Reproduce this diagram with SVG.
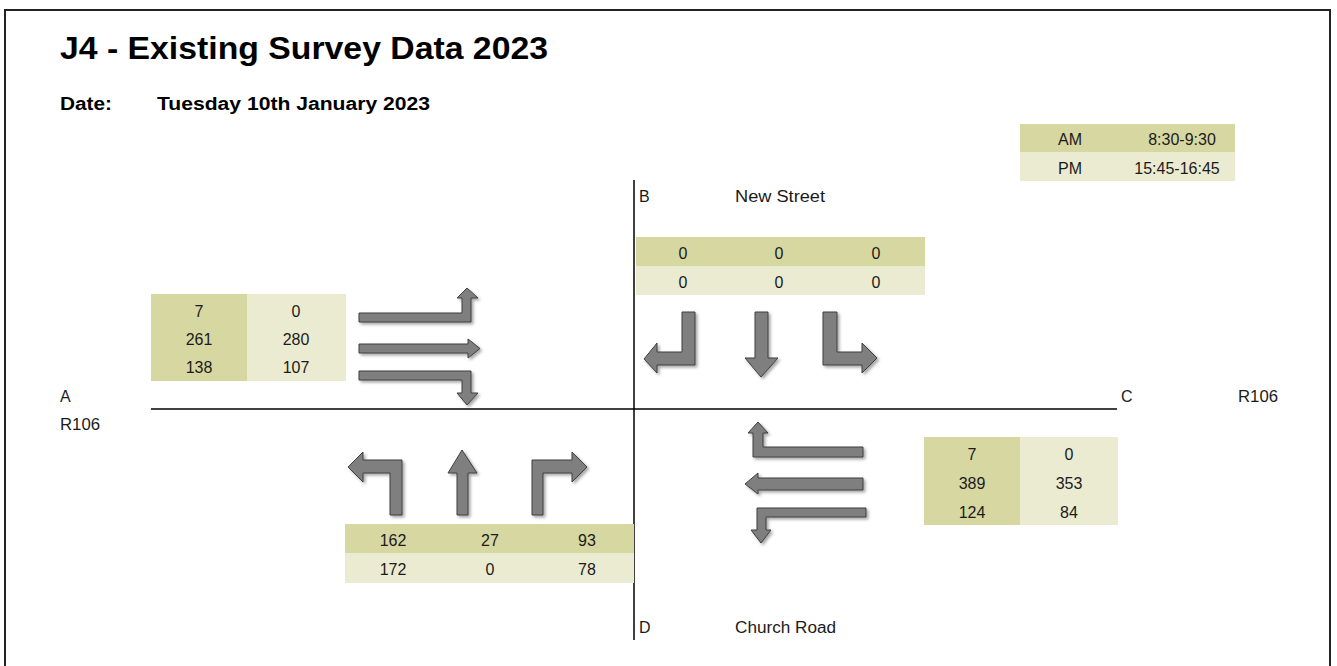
<svg xmlns="http://www.w3.org/2000/svg" width="1337" height="666" viewBox="0 0 1337 666">
<defs>
<filter id="sh" x="-30%" y="-30%" width="160%" height="160%">
<feDropShadow dx="2" dy="2" stdDeviation="1.5" flood-color="#000" flood-opacity="0.35"/>
</filter>
<style>
text{font-family:"Liberation Sans",Arial,sans-serif;fill:#1b1b1b}
.title{font-size:31px;font-weight:bold;fill:#000}
.date{font-size:18px;font-weight:bold;fill:#000}
.lbl{font-size:16px}
.num{font-size:16px;text-anchor:middle}
.dk{fill:#d7d7a2}
.lt{fill:#ebebd2}
.arr{fill:#7f7f7f;stroke:#3f3f3f;stroke-width:1;filter:url(#sh)}
.road{stroke:#000;stroke-width:1.5;fill:none}
</style>
</defs>
<rect x="5" y="10" width="1325" height="700" fill="#fff" stroke="#222" stroke-width="2"/>
<g id="header">
<text class="title" x="60" y="59" textLength="488" lengthAdjust="spacingAndGlyphs">J4 - Existing Survey Data 2023</text>
<text class="date" x="60" y="110" textLength="52" lengthAdjust="spacingAndGlyphs">Date:</text>
<text class="date" x="157" y="110" textLength="273" lengthAdjust="spacingAndGlyphs">Tuesday 10th January 2023</text>
</g>
<g id="legend">
<rect class="dk" x="1020" y="124" width="215" height="28"/>
<rect class="lt" x="1020" y="152" width="215" height="29"/>
<text class="num" x="1070" y="145">AM</text>
<text class="num" x="1182" y="145">8:30-9:30</text>
<text class="num" x="1070" y="174">PM</text>
<text class="num" x="1177" y="174">15:45-16:45</text>
</g>
<g id="connectors">
<line class="road" x1="634" y1="180" x2="634" y2="640"/>
<line class="road" x1="151" y1="409" x2="1117" y2="409"/>
</g>
<g id="labels">
<text class="lbl" x="639" y="202">B</text>
<text class="lbl" x="735" y="202" textLength="90" lengthAdjust="spacingAndGlyphs">New Street</text>
<text class="lbl" x="1121" y="402">C</text>
<text class="lbl" x="1238" y="402" textLength="40" lengthAdjust="spacingAndGlyphs">R106</text>
<text class="lbl" x="60" y="402">A</text>
<text class="lbl" x="60" y="430" textLength="40" lengthAdjust="spacingAndGlyphs">R106</text>
<text class="lbl" x="639" y="633">D</text>
<text class="lbl" x="735" y="633" textLength="101" lengthAdjust="spacingAndGlyphs">Church Road</text>
</g>
<g id="node-B">
<rect class="dk" x="636" y="237" width="289" height="29"/>
<rect class="lt" x="636" y="266" width="289" height="29"/>
<text class="num" x="683" y="259">0</text>
<text class="num" x="779" y="259">0</text>
<text class="num" x="876" y="259">0</text>
<text class="num" x="683" y="288">0</text>
<text class="num" x="779" y="288">0</text>
<text class="num" x="876" y="288">0</text>
<path class="arr" d="M682,312 H695 V365 H657 V373 L644,359 L657,343 V352 H682 Z"/>
<path class="arr" d="M755,312 H768 V358 H778 L761,377 L745,358 H755 Z"/>
<path class="arr" d="M823,312 H837 V352 H862 V343 L877,358 L862,373 V365 H823 Z"/>
</g>
<g id="node-A">
<rect class="dk" x="151" y="294" width="96" height="87"/>
<rect class="lt" x="247" y="294" width="99" height="87"/>
<text class="num" x="199" y="317">7</text>
<text class="num" x="296" y="317">0</text>
<text class="num" x="199" y="345">261</text>
<text class="num" x="296" y="345">280</text>
<text class="num" x="199" y="373">138</text>
<text class="num" x="296" y="373">107</text>
<path class="arr" d="M359,313 H462 V298 H457 L467,288 L478,298 H471 V322 H359 Z"/>
<path class="arr" d="M359,344 H468 V339 L480,348.5 L468,358 V353 H359 Z"/>
<path class="arr" d="M359,371 H471 V393 H478 L467,405 L457,393 H462 V380 H359 Z"/>
</g>
<g id="node-D">
<rect class="dk" x="345" y="524" width="289" height="29"/>
<rect class="lt" x="345" y="553" width="289" height="30"/>
<text class="num" x="393" y="546">162</text>
<text class="num" x="490" y="546">27</text>
<text class="num" x="587" y="546">93</text>
<text class="num" x="393" y="575">172</text>
<text class="num" x="490" y="575">0</text>
<text class="num" x="587" y="575">78</text>
<path class="arr" d="M390,515 V473 H363 V482 L348,467 L363,452 V460 H402 V515 Z"/>
<path class="arr" d="M457,515 V473 H448 L462,450 L477,473 H468 V515 Z"/>
<path class="arr" d="M532,515 V460 H572 V452 L587,467 L572,482 V473 H543 V515 Z"/>
</g>
<g id="node-C">
<rect class="dk" x="924" y="437" width="96" height="88"/>
<rect class="lt" x="1020" y="437" width="98" height="88"/>
<text class="num" x="972" y="460">7</text>
<text class="num" x="1069" y="460">0</text>
<text class="num" x="972" y="489">389</text>
<text class="num" x="1069" y="489">353</text>
<text class="num" x="972" y="518">124</text>
<text class="num" x="1069" y="518">84</text>
<path class="arr" d="M863,447 V457 H753 V433 H748 L758,422 L768,433 H763 V447 Z"/>
<path class="arr" d="M863,478 V490 H758 V494 L745,484 L758,473 V478 Z"/>
<path class="arr" d="M866,508 V517 H766 V530 H771 L761,543 L751,530 H757 V508 Z"/>
</g>
</svg>
